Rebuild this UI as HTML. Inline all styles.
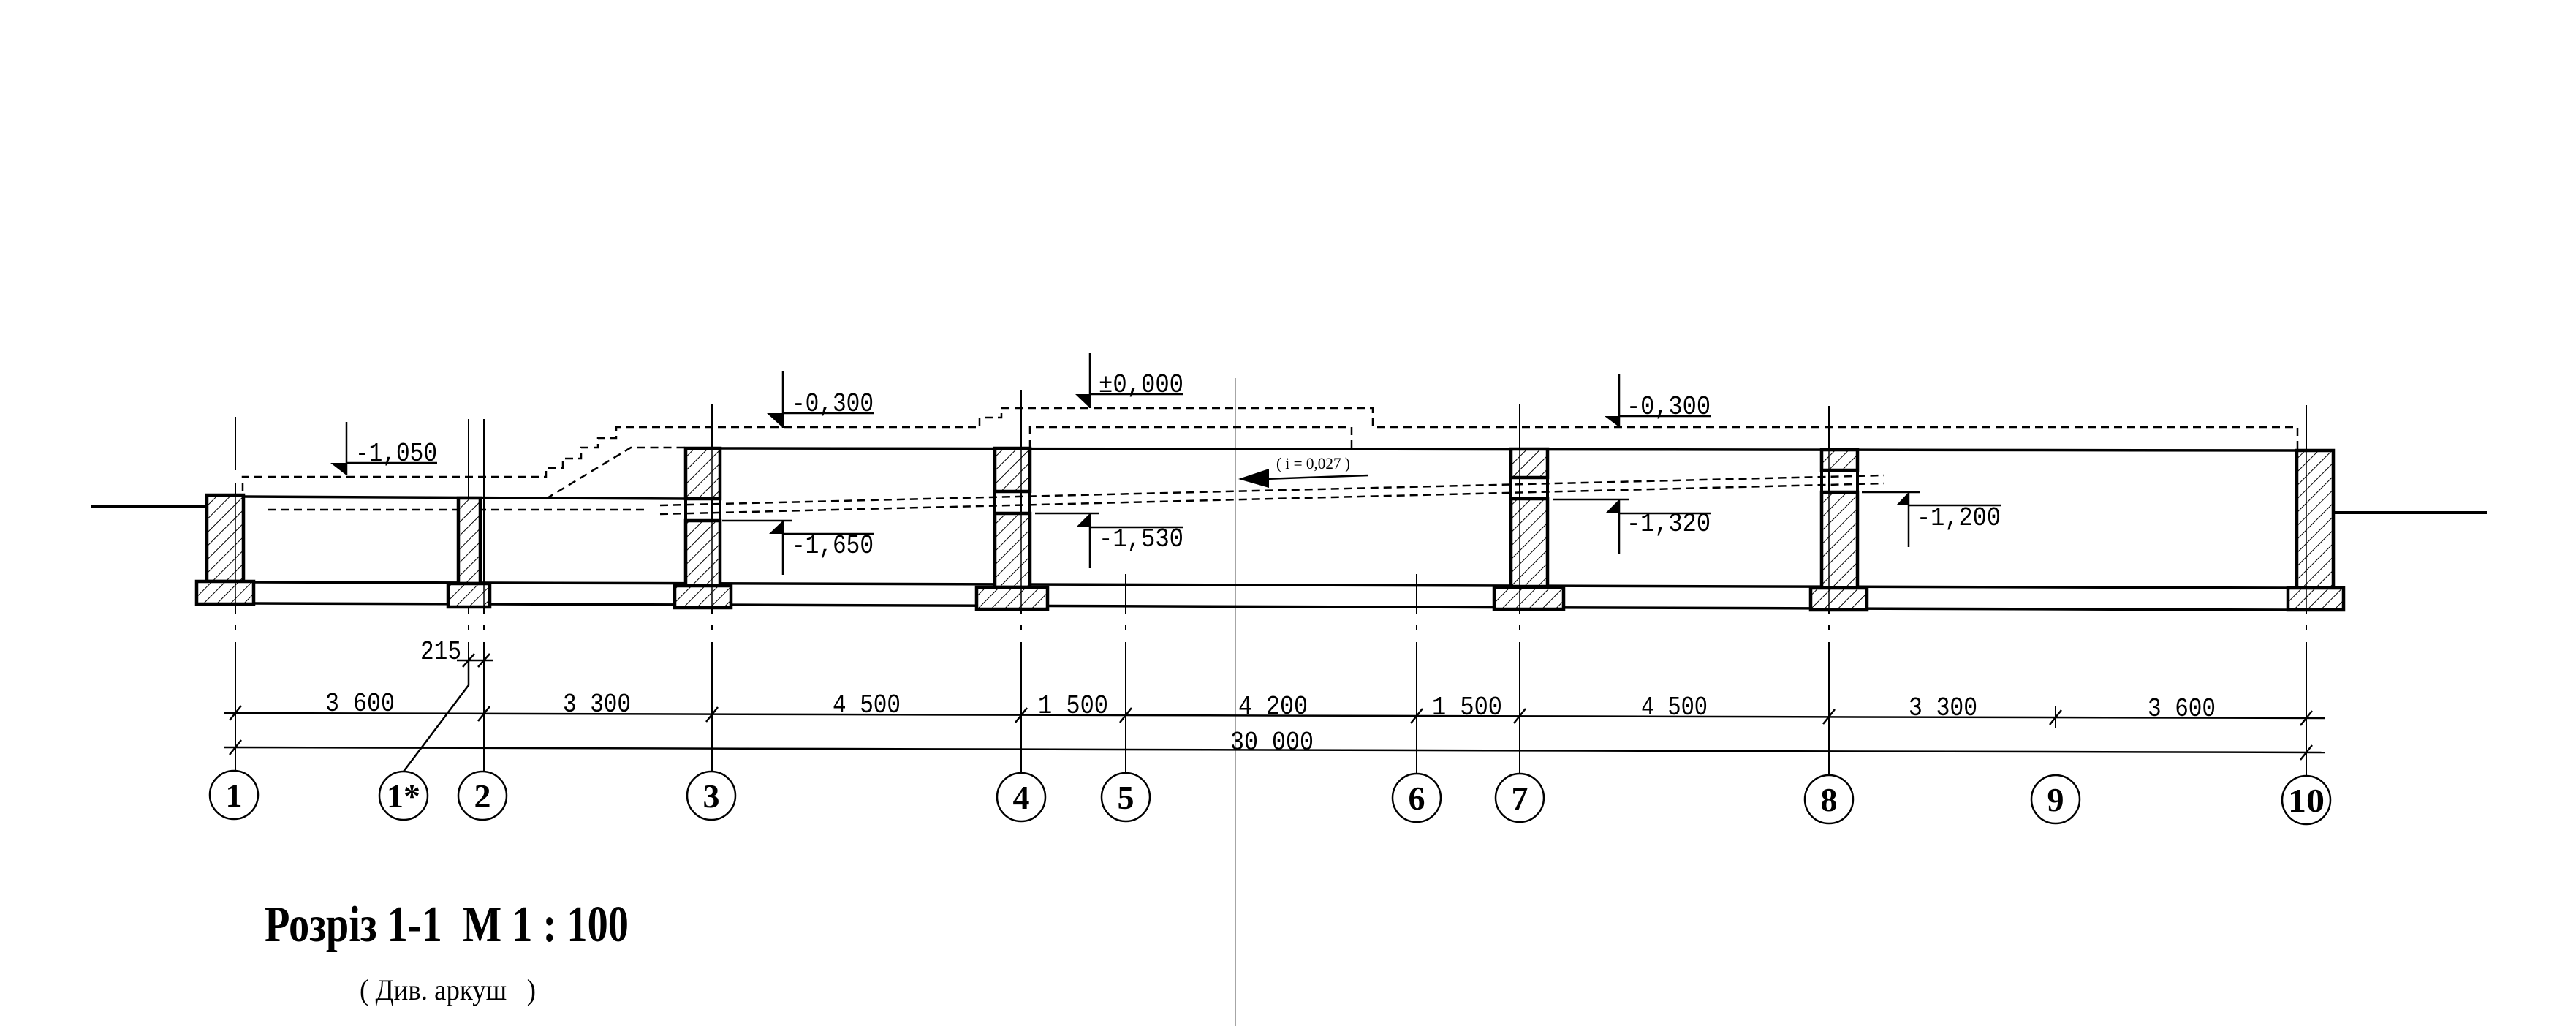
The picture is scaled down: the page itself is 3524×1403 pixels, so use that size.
<!DOCTYPE html>
<html><head><meta charset="utf-8"><style>html,body{margin:0;padding:0;background:#fff}svg{display:block}</style></head>
<body>
<svg width="3524" height="1403" viewBox="0 0 3524 1403" xmlns="http://www.w3.org/2000/svg">
<defs>
<pattern id="h" patternUnits="userSpaceOnUse" width="13" height="13" patternTransform="rotate(45)">
<rect width="13" height="13" fill="#fff"/><line x1="0" y1="0" x2="0" y2="13" stroke="#000" stroke-width="2"/>
</pattern>
</defs>
<rect width="3524" height="1403" fill="#fff"/>
<!-- fold line -->
<line x1="1690" y1="517" x2="1690" y2="1403" stroke="#888" stroke-width="1.5"/>

<g stroke="#000" fill="none">
<!-- axis lines -->
<g stroke-width="2">
<path d="M322 570V643M322 660V840M322 855V862M322 878V1055"/>
<path d="M641 573V840M641 855V862M641 878V903"/>
<path d="M662 573V840M662 855V862M662 878V1055"/>
<path d="M974 552V840M974 855V862M974 878V1055"/>
<path d="M1397 533V840M1397 855V862M1397 878V1057"/>
<path d="M1540 785V840M1540 855V862M1540 878V1057"/>
<path d="M1938 785V840M1938 855V862M1938 878V1058"/>
<path d="M2079 553V840M2079 855V862M2079 878V1058"/>
<path d="M2502 555V840M2502 855V862M2502 878V1060"/>
<path d="M2812 965V995"/>
<path d="M3155 554V840M3155 855V862M3155 878V1060"/>
</g>

<!-- ground lines -->
<line x1="124" y1="693" x2="283" y2="693" stroke-width="4"/>
<line x1="3192" y1="701" x2="3402" y2="701" stroke-width="4"/>
<!-- floor / top lines -->
<line x1="333" y1="679" x2="938" y2="682" stroke-width="3.5"/>
<line x1="985" y1="613" x2="3142" y2="616" stroke-width="3.5"/>
<!-- slab lines -->
<line x1="347" y1="796" x2="3130" y2="804" stroke-width="3.5"/>
<line x1="347" y1="825" x2="3130" y2="834" stroke-width="3.5"/>

<!-- dashed lines -->
<g stroke-width="2.5" stroke-dasharray="11 7">
<path d="M332 672V652H747V640H770V627H795V612H818V599H843V584H1340V571H1370V558H1878V584H3143V614"/>
<path d="M747 682L863 612H937"/>
<path d="M1409 612V584H1849V614"/>
<path d="M366 697H883"/>
<path d="M903 691L2577 650"/>
<path d="M903 703L2577 661"/>
</g>
</g>

<!-- walls -->
<g stroke="#000" stroke-width="4.5" fill="url(#h)">
<rect x="283" y="677" width="50" height="118"/>
<rect x="627" y="681" width="30" height="117"/>
<rect x="938" y="613" width="47" height="69"/><rect x="938" y="712" width="47" height="89"/>
<rect x="1361" y="613" width="48" height="59"/><rect x="1361" y="702" width="48" height="101"/>
<rect x="2067" y="614" width="50" height="39"/><rect x="2067" y="682" width="50" height="120"/>
<rect x="2492" y="615" width="49" height="28"/><rect x="2492" y="673" width="49" height="131"/>
<rect x="3142" y="616" width="50" height="188"/>
<rect x="269" y="795" width="78" height="31"/>
<rect x="613" y="798" width="57" height="32"/>
<rect x="923" y="801" width="77" height="30"/>
<rect x="1336" y="803" width="97" height="30"/>
<rect x="2044" y="803" width="95" height="30"/>
<rect x="2477" y="804" width="77" height="30"/>
<rect x="3130" y="804" width="76" height="30"/>
</g>
<g stroke="#000" stroke-width="4" fill="none">
<path d="M938 682V712M985 682V712M1361 672V702M1409 672V702M2067 653V682M2117 653V682M2492 643V673M2541 643V673"/>
</g>
<g stroke="#000" stroke-width="1.5">
<path d="M322 677V826M974 613V831M1397 613V833M2079 614V833M2502 615V834M3155 616V834M662 681V830"/>
</g>

<!-- level marks -->
<g stroke="#000" stroke-width="2.5" fill="none">
<path d="M474 577V650M474 633H598"/>
<path d="M1071 508V585M1071 565H1195"/>
<path d="M1491 483V558M1491 539H1619"/>
<path d="M2215 512V584M2215 569H2340"/>
<path d="M988 712H1083M1071 712V786M1071 730H1195"/>
<path d="M1416 702H1503M1491 702V777M1491 721H1619"/>
<path d="M2125 683H2229M2215 683V758M2215 702H2340"/>
<path d="M2547 673H2626M2611 673V748M2611 691H2737"/>
<path d="M1872 650L1730 655"/>
</g>
<g fill="#000">
<polygon points="452,633 474,633 474,650"/>
<polygon points="1049,565 1071,565 1071,585"/>
<polygon points="1471,539 1491,539 1491,558"/>
<polygon points="2195,569 2215,569 2215,584"/>
<polygon points="1071,712 1071,730 1052,730"/>
<polygon points="1491,702 1491,721 1472,721"/>
<polygon points="2215,683 2215,702 2196,702"/>
<polygon points="2611,673 2611,691 2594,691"/>
<polygon points="1694,655 1736,641 1736,667"/>
</g>
<g font-family="Liberation Mono, monospace" font-size="36" fill="#000">
<text x="486" y="630" textLength="112" lengthAdjust="spacingAndGlyphs">-1,050</text>
<text x="1083" y="562" textLength="112" lengthAdjust="spacingAndGlyphs">-0,300</text>
<text x="1503" y="536" textLength="116" lengthAdjust="spacingAndGlyphs">±0,000</text>
<text x="2225" y="566" textLength="115" lengthAdjust="spacingAndGlyphs">-0,300</text>
<text x="1083" y="756" textLength="112" lengthAdjust="spacingAndGlyphs">-1,650</text>
<text x="1503" y="747" textLength="116" lengthAdjust="spacingAndGlyphs">-1,530</text>
<text x="2225" y="726" textLength="115" lengthAdjust="spacingAndGlyphs">-1,320</text>
<text x="2622" y="718" textLength="115" lengthAdjust="spacingAndGlyphs">-1,200</text>
</g>
<text x="1746" y="641" font-family="Liberation Serif, serif" font-size="22" textLength="101" lengthAdjust="spacingAndGlyphs">( i = 0,027 )</text>

<!-- dimension lines -->
<g stroke="#000" stroke-width="2.5" fill="none">
<line x1="306" y1="975" x2="3180" y2="982"/>
<line x1="306" y1="1022" x2="3180" y2="1029"/>
<path d="M625 903H675"/>
<path d="M641 903V937L552 1055"/>
</g>
<g stroke="#000" stroke-width="2.5">
<path d="M314 985L330 965M314 1032L330 1012M654 986L670 966M966 987L982 967M1389 988L1405 968M1532 988L1548 968M1930 989L1946 969M2071 989L2087 969M2494 990L2510 970M2804 991L2820 971M3147 992L3163 972M3147 1039L3163 1019M633 912L649 894M654 912L670 894"/>
</g>
<g font-family="Liberation Mono, monospace" font-size="36" fill="#000">
<text x="445" y="972" textLength="95" lengthAdjust="spacingAndGlyphs">3 600</text>
<text x="770" y="973" textLength="93" lengthAdjust="spacingAndGlyphs">3 300</text>
<text x="1139" y="974" textLength="93" lengthAdjust="spacingAndGlyphs">4 500</text>
<text x="1420" y="975" textLength="96" lengthAdjust="spacingAndGlyphs">1 500</text>
<text x="1694" y="976" textLength="95" lengthAdjust="spacingAndGlyphs">4 200</text>
<text x="1959" y="977" textLength="96" lengthAdjust="spacingAndGlyphs">1 500</text>
<text x="2245" y="977" textLength="91" lengthAdjust="spacingAndGlyphs">4 500</text>
<text x="2611" y="978" textLength="94" lengthAdjust="spacingAndGlyphs">3 300</text>
<text x="2938" y="979" textLength="93" lengthAdjust="spacingAndGlyphs">3 600</text>
<text x="1683" y="1025" textLength="114" lengthAdjust="spacingAndGlyphs">30 000</text>
<text x="575" y="901" textLength="56" lengthAdjust="spacingAndGlyphs">215</text>
</g>

<!-- axis circles -->
<g stroke="#000" stroke-width="2.5" fill="#fff">
<ellipse cx="320" cy="1087" rx="33" ry="33"/>
<ellipse cx="552" cy="1088" rx="33" ry="33"/>
<ellipse cx="660" cy="1088" rx="33" ry="33"/>
<ellipse cx="973" cy="1088" rx="33" ry="33"/>
<ellipse cx="1397" cy="1090" rx="33" ry="33"/>
<ellipse cx="1540" cy="1090" rx="33" ry="33"/>
<ellipse cx="1938" cy="1091" rx="33" ry="33"/>
<ellipse cx="2079" cy="1091" rx="33" ry="33"/>
<ellipse cx="2502" cy="1093" rx="33" ry="33"/>
<ellipse cx="2812" cy="1093" rx="33" ry="33"/>
<ellipse cx="3155" cy="1094" rx="33" ry="33"/>
</g>
<g font-family="Liberation Serif, serif" font-weight="bold" font-size="46" fill="#000" text-anchor="middle">
<text x="320" y="1103">1</text>
<text x="552" y="1104">1*</text>
<text x="660" y="1104">2</text>
<text x="973" y="1104">3</text>
<text x="1397" y="1106">4</text>
<text x="1540" y="1106">5</text>
<text x="1938" y="1107">6</text>
<text x="2079" y="1107">7</text>
<text x="2502" y="1109">8</text>
<text x="2812" y="1109">9</text>
<text x="3155" y="1110" textLength="50" lengthAdjust="spacingAndGlyphs">10</text>
</g>

<!-- title -->
<text x="362" y="1287" font-family="Liberation Serif, serif" font-weight="bold" font-size="70" textLength="498" lengthAdjust="spacingAndGlyphs">Розріз 1-1&#160;&#160;М 1 : 100</text>
<text x="492" y="1367" font-family="Liberation Serif, serif" font-size="40" textLength="241" lengthAdjust="spacingAndGlyphs">( Див. аркуш&#160;&#160;&#160;)</text>
</svg>
</body></html>
